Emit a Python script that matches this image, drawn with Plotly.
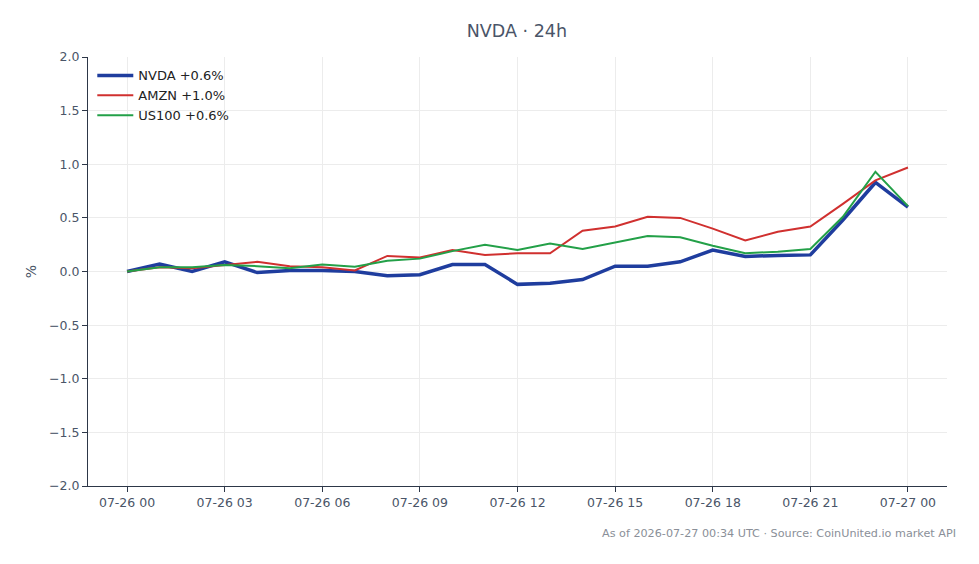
import plotly.graph_objects as go
import pandas as pd

times = pd.date_range("2026-07-26 00:00", "2026-07-27 00:00", freq="h")

nvda = [0.00, 0.07, 0.00, 0.09, -0.01, 0.01, 0.01, 0.00, -0.04, -0.03, 0.065, 0.065,
        -0.12, -0.11, -0.075, 0.05, 0.05, 0.09, 0.20, 0.14, 0.15, 0.155, 0.48, 0.83, 0.60]
amzn = [0.00, 0.04, 0.03, 0.06, 0.09, 0.05, 0.04, 0.01, 0.145, 0.13, 0.20, 0.155,
        0.17, 0.17, 0.38, 0.42, 0.51, 0.50, 0.40, 0.29, 0.37, 0.42, 0.63, 0.85, 0.97]
us100 = [0.00, 0.04, 0.04, 0.06, 0.05, 0.03, 0.065, 0.045, 0.10, 0.12, 0.19, 0.25,
         0.20, 0.26, 0.21, 0.27, 0.33, 0.32, 0.24, 0.17, 0.185, 0.21, 0.51, 0.93, 0.61]

names = ["NVDA +0.6%", "AMZN +1.0%", "US100 +0.6%"]
colors = ["#1f3d9e", "#d0302f", "#23a048"]
widths = [3.5, 2, 2]
series = [nvda, amzn, us100]

title = "NVDA · 24h"
footer = "As of 2026-07-27 00:34 UTC · Source: CoinUnited.io market API"

fig = go.Figure()
for name, vals, col, w in zip(names, series, colors, widths):
    fig.add_trace(go.Scatter(x=times, y=vals, mode="lines", name=name,
                             line=dict(color=col, width=w)))

fig.add_shape(type="line", xref="paper", yref="y", x0=0, x1=1, y0=0, y1=0,
              line=dict(color="#8a9bb0", width=1, dash="dash"), layer="below")

font_family = "DejaVu Sans"
fig.update_layout(
    width=979, height=564,
    paper_bgcolor="white", plot_bgcolor="white",
    margin=dict(l=88, r=32, t=57, b=78),
    font=dict(family=font_family, size=13, color="#4a5568"),
    title=dict(text=title, x=0.528, xanchor="center", y=0.945, yanchor="middle",
               font=dict(size=17.5, color="#4a5568")),
    showlegend=True,
    legend=dict(x=0.005, y=0.992, xanchor="left", yanchor="top",
                bgcolor="rgba(255,255,255,0)", font=dict(size=13, color="#222222"),
                tracegroupgap=0, itemwidth=36),
    annotations=[dict(text=footer, xref="paper", yref="paper", x=1.0125, y=-0.111,
                      xanchor="right", yanchor="middle", showarrow=False,
                      font=dict(size=11.2, color="#8a8f98"))],
)

fig.update_xaxes(
    range=[pd.Timestamp("2026-07-25 22:48"), pd.Timestamp("2026-07-27 01:12")],
    tickformat="%m-%d %H", dtick=3 * 3600 * 1000,
    tick0=pd.Timestamp("2026-07-26 00:00"),
    showgrid=True, gridcolor="#ececec", gridwidth=1,
    showline=True, linecolor="#2d3748", linewidth=1.2,
    ticks="outside", ticklen=5, tickcolor="#2d3748",
    tickfont=dict(size=12.5, color="#4a5568"), zeroline=False,
)
fig.update_yaxes(
    range=[-2, 2], dtick=0.5, tickformat=".1f",
    showgrid=True, gridcolor="#ececec", gridwidth=1,
    showline=True, linecolor="#2d3748", linewidth=1.2,
    ticks="outside", ticklen=5, tickcolor="#2d3748",
    tickfont=dict(size=12.5, color="#4a5568"), zeroline=False,
    title=dict(text="%", font=dict(size=14, color="#4a5568"), standoff=9),
)

fig.write_html("out.html")
